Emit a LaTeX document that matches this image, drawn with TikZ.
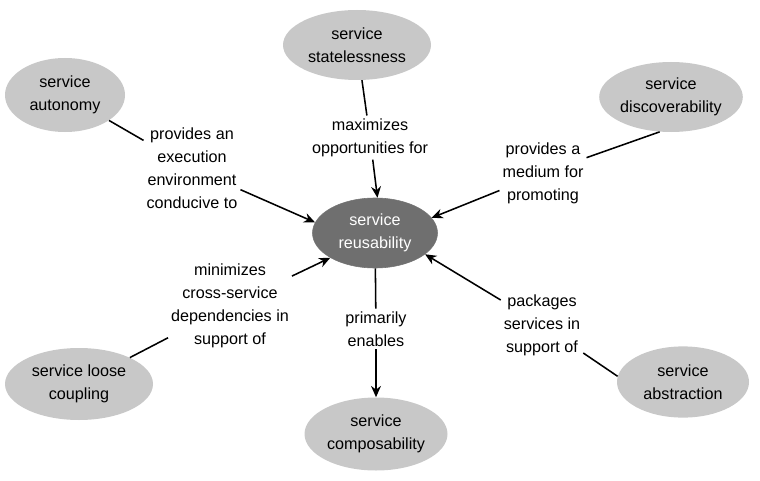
\documentclass[tikz,border=0pt]{standalone}
\usepackage{fontspec}
\setmainfont{Liberation Sans}
\usetikzlibrary{shapes.geometric, arrows.meta}

\definecolor{outergray}{HTML}{C8C8C8}
\definecolor{coregray}{HTML}{6F6F6F}

\begin{document}
\begin{tikzpicture}[
        principle/.style={ellipse, fill=outergray, inner sep=0pt, align=center,
            font=\fontsize{11.5}{16.3}\selectfont},
        goal/.style={ellipse, fill=coregray, draw=black!55, text=white, inner sep=0pt,
            align=center, font=\fontsize{11.5}{16.3}\selectfont},
        relation/.style={align=center, inner sep=2pt, font=\fontsize{11.5}{16.3}\selectfont},
        link/.style={line width=1.1pt},
        leads/.style={line width=1.1pt, -{Stealth[length=8pt, width=7pt]}}
    ]
        \useasboundingbox (0, 0) rectangle (19, 12);

        % Centre
        \node [goal, minimum width=3.125cm, minimum height=1.75cm] (reuse) at (9.375, 6.175) {service\\reusability};

        % Principles around it
        \node [principle, minimum width=3.7cm, minimum height=1.75cm] (stateless) at (8.925, 10.875) {service\\statelessness};
        \node [principle, minimum width=3.0cm, minimum height=1.85cm] (autonomy) at (1.625, 9.625) {service\\autonomy};
        \node [principle, minimum width=3.55cm, minimum height=1.75cm] (discover) at (16.775, 9.575) {service\\discoverability};
        \node [principle, minimum width=3.7cm, minimum height=1.8cm] (loose) at (1.975, 2.4) {service loose\\coupling};
        \node [principle, minimum width=3.3cm, minimum height=1.78cm] (abstract) at (17.075, 2.45) {service\\abstraction};
        \node [principle, minimum width=3.575cm, minimum height=1.825cm] (compose) at (9.4, 1.15) {service\\composability};

        % Relation labels
        \node [relation] (maxopp) at (9.25, 8.56) {maximizes\\opportunities for};
        \node [relation] (execenv) at (4.8, 7.79) {provides an\\execution\\environment\\conducive to};
        \node [relation] (medium) at (13.575, 7.675) {provides a\\medium for\\promoting};
        \node [relation] (mindep) at (5.75, 4.36) {minimizes\\cross-service\\dependencies in\\support of};
        \node [relation] (primen) at (9.4, 3.775) {primarily\\enables};
        \node [relation] (packs) at (13.55, 3.875) {packages\\services in\\support of};

        % Connectors
        \draw [link] (stateless) -- (maxopp);
        \draw [leads] (maxopp) -- (reuse.86);
        \draw [link] (autonomy) -- (execenv);
        \draw [leads] (execenv) -- (reuse.170);
        \draw [link] (discover.252) -- (medium);
        \draw [leads] (medium) -- (reuse.15);
        \draw [link] (loose) -- (mindep);
        \draw [leads] (mindep) -- (reuse.209);
        \draw [link] (abstract.175) -- (packs);
        \draw [leads] (packs) -- (reuse.337);
        \draw [link] (reuse) -- (primen);
        \draw [leads] (primen) -- (compose);
    \end{tikzpicture}
\end{document}
